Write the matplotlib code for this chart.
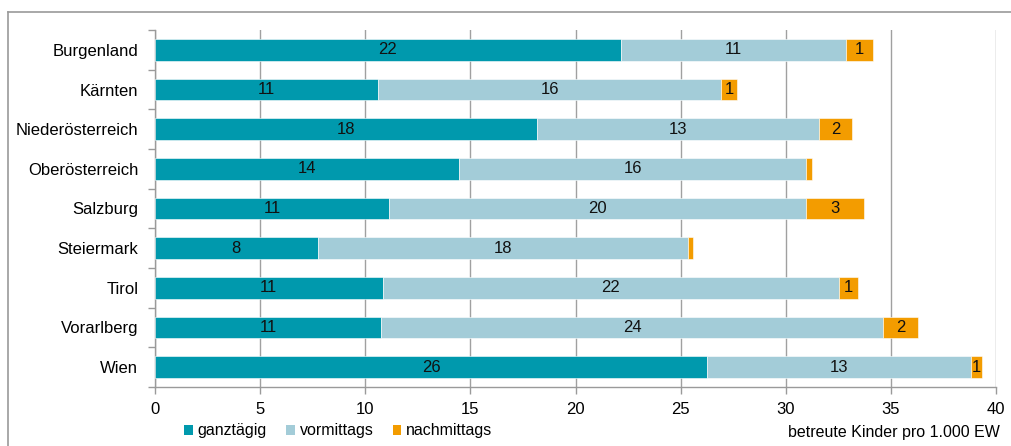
import matplotlib.pyplot as plt
import numpy as np
from matplotlib.lines import Line2D
from matplotlib.patches import Patch

plt.rcParams["font.family"] = ["Liberation Sans", "DejaVu Sans"]

regions = ["Burgenland", "Kärnten", "Niederösterreich", "Oberösterreich",
           "Salzburg", "Steiermark", "Tirol", "Vorarlberg", "Wien"]
ganztaegig = [22.15, 10.61, 18.15, 14.48, 11.12, 7.74, 10.83, 10.76, 26.27]
vormittags = [10.70, 16.31, 13.45, 16.48, 19.83, 17.63, 21.70, 23.88, 12.54]
nachmittags = [1.31, 0.75, 1.55, 0.30, 2.77, 0.20, 0.92, 1.66, 0.54]
series_names = ["ganztägig", "vormittags", "nachmittags"]
x_ticks = [0, 5, 10, 15, 20, 25, 30, 35, 40]
x_label = "betreute Kinder pro 1.000 EW"

colors = ["#0099AD", "#A3CCD8", "#F39C00"]

W, H = 1011, 446
fig = plt.figure(figsize=(W / 100, H / 100), dpi=100)
fig.patch.set_facecolor("white")

# outer frame: only top and left edges fall inside the picture
top_y = 1 - 12 / H
left_x = 8 / W
fig.add_artist(Line2D([left_x, 1.01], [top_y, top_y], transform=fig.transFigure,
                      color="#9A9A9A", linewidth=1.2))
fig.add_artist(Line2D([left_x, left_x], [top_y, -0.01], transform=fig.transFigure,
                      color="#9A9A9A", linewidth=1.2))

ax = fig.add_axes([155 / W, 1 - 387 / H, (996 - 155) / W, (387 - 30) / H])

y = np.arange(len(regions))
left = np.zeros(len(regions))
for vals, col, name in zip([ganztaegig, vormittags, nachmittags], colors, series_names):
    vals = np.array(vals)
    ax.barh(y, vals, left=left, height=0.55, color=col, edgecolor="white",
            linewidth=0.4, label=name, zorder=3)
    for yi, (l, v) in enumerate(zip(left, vals)):
        if round(v) >= 1:
            ax.text(l + v / 2, yi, f"{round(v):.0f}", ha="center", va="center",
                    fontsize=12, color="#111111", zorder=4)
    left += vals

ax.set_xlim(0, 40)
ax.set_ylim(len(regions) - 0.5, -0.5)
ax.set_xticks(x_ticks)
ax.set_xticklabels([str(t) for t in x_ticks], fontsize=12)
ax.set_yticks(y)
ax.set_yticklabels(regions, fontsize=12)
ax.tick_params(axis="y", length=0, pad=12)
ax.set_yticks(np.arange(-0.5, len(regions)), minor=True)
ax.tick_params(axis="y", which="minor", length=5, color="#9A9A9A", width=1)
ax.tick_params(axis="x", length=5, color="#9A9A9A", width=1, pad=6)

ax.grid(axis="x", color="#A0A0A0", linewidth=1, zorder=0)
for side in ["top", "right"]:
    ax.spines[side].set_visible(False)
for side in ["left", "bottom"]:
    ax.spines[side].set_color("#9A9A9A")
    ax.spines[side].set_linewidth(1)

handles = [Patch(facecolor=c, label=n) for c, n in zip(colors, series_names)]
fig.legend(handles=handles, loc="center left", bbox_to_anchor=(176 / W, 1 - 431 / H),
           ncol=3, frameon=False, fontsize=11.5, handlelength=0.55, handleheight=0.55,
           handletextpad=0.3, columnspacing=1.2, borderpad=0)
fig.text(1000 / W, 1 - 433 / H, x_label, ha="right", va="center", fontsize=11.5)

fig.savefig("out.png", dpi=100, facecolor="white")
